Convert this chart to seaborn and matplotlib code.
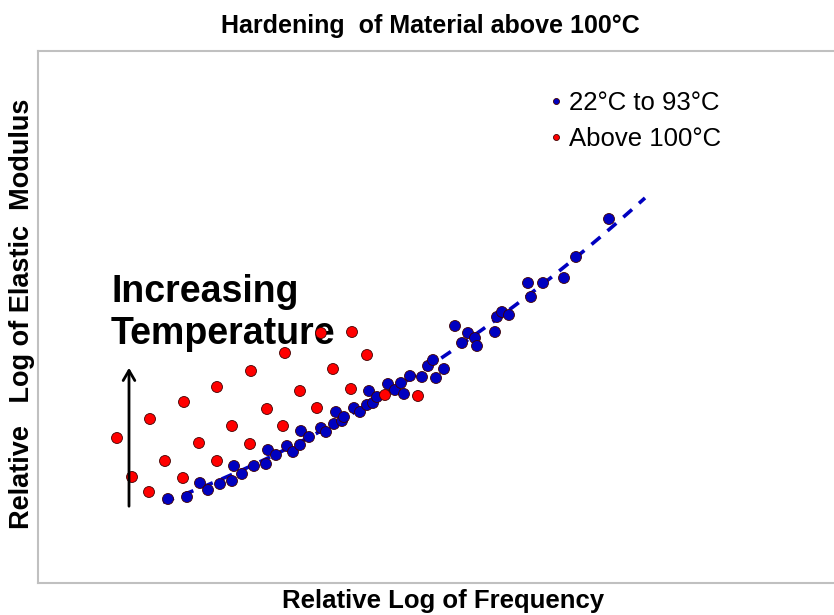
import numpy as np
import pandas as pd
import matplotlib
matplotlib.use("Agg")
import matplotlib.pyplot as plt
import seaborn as sns

# Relative log frequency (x) and relative log modulus (y)
blue_x = [168, 187, 200, 208, 220, 232, 234, 242, 254, 266, 268, 276, 287, 293, 300,
          301, 309, 321, 326, 334, 336, 342, 344, 354, 360, 367, 369, 373, 377, 388,
          395, 401, 404, 410, 422, 428, 433, 436, 444, 455, 462, 468, 475, 477, 495,
          497, 502, 509, 528, 531, 543, 564, 576, 609]
blue_y = [116, 118, 132, 125, 131, 134, 149, 141, 149, 151, 165, 160, 169, 163, 170,
          184, 178, 187, 183, 191, 203, 194, 198, 207, 203, 210, 224, 212, 218, 231,
          225, 232, 221, 239, 238, 249, 255, 237, 246, 289, 272, 282, 277, 269, 283,
          298, 303, 300, 332, 318, 332, 337, 358, 396]
red_x = [117, 132, 149, 150, 165, 184, 183, 199, 217, 217, 232, 251, 250, 267, 285,
         300, 283, 333, 317, 321, 352, 367, 351, 385, 418]
red_y = [177, 138, 123, 196, 154, 213, 137, 172, 228, 154, 189, 244, 171, 206, 262,
         224, 189, 246, 207, 282, 283, 260, 226, 220, 219]
groups = ["22°C to 93°C", "Above 100°C"]
fit_range = [163, 645]

sns.set_theme(style="white")
plt.rcParams['font.family'] = ['Liberation Sans', 'DejaVu Sans']
plt.rcParams['text.color'] = 'black'
plt.rcParams['axes.labelcolor'] = 'black'

df = pd.DataFrame({
    "x": blue_x + red_x,
    "y": blue_y + red_y,
    "group": [groups[0]] * len(blue_x) + [groups[1]] * len(red_x),
})

fig = plt.figure(figsize=(8.34, 6.15), dpi=100)
ax = fig.add_axes([38 / 834, 32 / 615, 1 - 38 / 834, (583 - 51) / 615])

palette = {groups[0]: "#0000c0", groups[1]: "#ff0000"}

# dashed quadratic trend through the low-temperature data
coef = np.polyfit(blue_x, blue_y, 2)
xf = np.linspace(fit_range[0], fit_range[1], 200)
ax.plot(xf, np.polyval(coef, xf), color="#0000c0", lw=2.6, ls=(0, (3.2, 2.6)), zorder=1)

sns.scatterplot(data=df, x="x", y="y", hue="group", palette=palette, s=62,
                edgecolor="#400000", linewidth=0.6, ax=ax, zorder=3, legend=True)

ax.set_xlim(38, 834)
ax.set_ylim(32, 564)
ax.set_xticks([])
ax.set_yticks([])
ax.set_xlabel("")
ax.set_ylabel("")
for side in ["left", "top", "bottom"]:
    ax.spines[side].set_color("#c0c0c0")
    ax.spines[side].set_linewidth(1.5)
ax.spines["right"].set_visible(False)

leg = ax.legend(loc="upper left", bbox_to_anchor=((533 - 38) / 796, 1 - (81 - 51) / 532),
                frameon=False, fontsize=18.5, markerscale=0.55, handletextpad=0.0,
                labelspacing=0.45, borderaxespad=0, handlelength=1.0)
for h in leg.legend_handles:
    try:
        h.set_markeredgecolor("#400000")
    except AttributeError:
        pass
for t in leg.get_texts():
    t.set_color("black")

# annotation
ax.annotate("", xy=(129, 615 - 365), xytext=(129, 615 - 509),
            arrowprops=dict(arrowstyle="->,head_length=0.6,head_width=0.35", lw=2, color="black"))
ax.text(111, 615 - 313, "Increasing\nTemperature", fontsize=27, fontweight="bold",
        ha="left", va="center", linespacing=1.24, color="black", zorder=2)

fig.text(430 / 834, 1 - 26 / 615, "Hardening  of Material above 100°C", fontsize=18,
         fontweight="bold", ha="center", va="center")
fig.text(443 / 834, 1 - 601 / 615, "Relative Log of Frequency", fontsize=18.5,
         fontweight="bold", ha="center", va="center")
fig.text(22 / 834, 1 - 314 / 615, "Relative   Log of Elastic  Modulus", fontsize=19.5,
         fontweight="bold", ha="center", va="center", rotation=90)

fig.savefig("out.png", dpi=100)
